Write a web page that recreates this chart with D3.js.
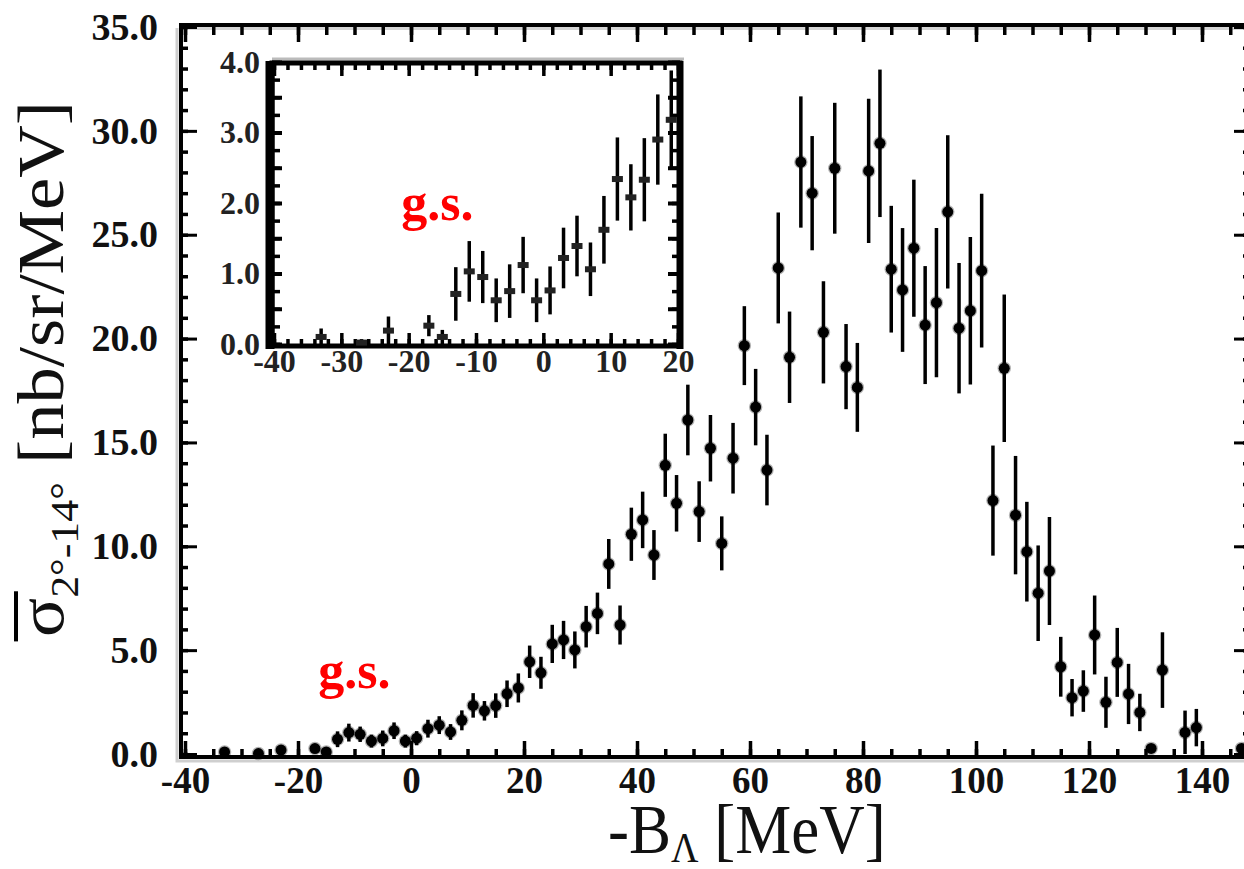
<!DOCTYPE html>
<html>
<head>
<meta charset="utf-8">
<script src="https://cdn.jsdelivr.net/npm/d3@7/dist/d3.min.js"></script>
<style>
  body { margin: 0; background: #fff; }
  svg { display: block; }
  text { font-family: "Liberation Serif", "Times New Roman", serif; }
</style>
</head>
<body>
<svg id="chart" width="1244" height="869"></svg>
<script>
// -B_Lambda bin centres [MeV]
var energy = [-33, -27, -23, -17, -15, -13, -11, -9, -7, -5, -3, -1, 1, 3, 5, 7, 9, 11, 13, 15, 17, 19,
  21, 23, 25, 27, 29, 31, 33, 35, 37, 39, 41, 43, 45, 47, 49, 51, 53, 55, 57, 59, 61, 63, 65, 67, 69,
  71, 73, 75, 77, 79, 81, 83, 85, 87, 89, 91, 93, 95, 97, 99, 101, 103, 105, 107, 109, 111, 113, 115,
  117, 119, 121, 123, 125, 127, 129, 131, 133, 137, 139, 147];
// cross section [nb/sr/MeV]
var sigma = [0.10, 0.02, 0.19, 0.26, 0.10, 0.71, 1.03, 0.95, 0.62, 0.75, 1.12, 0.62, 0.76, 1.22, 1.39, 1.06, 1.62, 2.34, 2.08, 2.33, 2.90, 3.18,
  4.44, 3.91, 5.30, 5.49, 5.01, 6.13, 6.77, 9.15, 6.21, 10.58, 11.27, 9.58, 13.90, 12.07, 16.08, 11.67, 14.72, 10.14, 14.24, 19.66, 16.70, 13.67, 23.40, 19.10, 28.50,
  27.00, 20.30, 28.20, 18.65, 17.65, 28.07, 29.40, 23.34, 22.34, 24.35, 20.65, 21.73, 26.10, 20.50, 21.34, 23.27, 12.20, 18.57, 11.50, 9.74, 7.74, 8.81, 4.20,
  2.71, 3.03, 5.73, 2.49, 4.41, 2.89, 2.00, 0.27, 4.04, 1.04, 1.27, 0.27];
var sigmaErr = [0.12, 0.05, 0.20, 0.15, 0.10, 0.38, 0.43, 0.37, 0.31, 0.38, 0.40, 0.31, 0.34, 0.43, 0.43, 0.38, 0.48, 0.59, 0.47, 0.59, 0.64, 0.70,
  0.78, 0.77, 0.92, 0.92, 0.89, 1.00, 1.00, 1.20, 0.94, 1.28, 1.36, 1.20, 1.52, 1.36, 1.70, 1.46, 1.60, 1.30, 1.70, 1.90, 1.84, 1.70, 2.67, 2.20, 3.16,
  2.75, 2.46, 3.15, 2.05, 2.14, 3.47, 3.55, 3.05, 2.98, 3.30, 2.84, 3.59, 3.69, 3.14, 3.55, 3.70, 2.65, 3.55, 2.85, 2.40, 2.30, 2.60, 1.44,
  0.90, 1.00, 1.90, 1.23, 1.66, 1.45, 0.90, 0.20, 1.82, 1.05, 0.90, 0.20];

var mainXTicks = [-40, -20, 0, 20, 40, 60, 80, 100, 120, 140];
var mainYTicks = [0, 5, 10, 15, 20, 25, 30, 35];
var insetXTicks = [-40, -30, -20, -10, 0, 10, 20];
var insetYTicks = [0, 1, 2, 3, 4];

var data = energy.map(function(e, i) { return { x: e, y: sigma[i], err: sigmaErr[i] }; });

// plain hyphen for negatives, like the original
var intFmt = function(d) { return String(d); };

var svg = d3.select("#chart");

// ---------- main plot ----------
var x = d3.scaleLinear().domain([-40, 140]).range([185, 1202]);
var y = d3.scaleLinear().domain([0, 35]).range([754, 27]);
var frame = { left: 181, top: 25, right: 1250, bottom: 757 };

var main = svg.append("g");

// grey shadow of the frame (scan look)
main.append("path")
  .attr("d", "M" + (frame.left - 4) + "," + (frame.top + 3) + "V" + (frame.bottom + 4) + "H" + frame.right)
  .attr("fill", "none").attr("stroke", "#cfcfcf").attr("stroke-width", 3);
main.append("line")
  .attr("x1", frame.left).attr("x2", frame.right)
  .attr("y1", frame.top + 3.5).attr("y2", frame.top + 3.5)
  .attr("stroke", "#d5d5d5").attr("stroke-width", 3);

function styleTicks(g, w) {
  g.select(".domain").remove();
  g.selectAll(".tick line").attr("stroke", "#000").attr("stroke-width", w);
}

var minorX = d3.range(-40, 146, 5);
var majorX = mainXTicks;
var minorY = d3.range(0, 35.5, 1);
var majorY = mainYTicks;

main.append("g").attr("transform", "translate(0," + frame.bottom + ")")
  .call(d3.axisBottom(x).tickValues(minorX).tickSize(-8).tickFormat("")).call(styleTicks, 3.5);
main.append("g").attr("transform", "translate(0," + frame.bottom + ")")
  .call(d3.axisBottom(x).tickValues(majorX).tickSize(-16).tickFormat("")).call(styleTicks, 3.5);
main.append("g").attr("transform", "translate(0," + frame.top + ")")
  .call(d3.axisTop(x).tickValues(minorX).tickSize(-10).tickFormat("")).call(styleTicks, 3.5);
main.append("g").attr("transform", "translate(0," + frame.top + ")")
  .call(d3.axisTop(x).tickValues(majorX).tickSize(-17).tickFormat("")).call(styleTicks, 3.5);
main.append("g").attr("transform", "translate(" + frame.left + ",0)")
  .call(d3.axisLeft(y).tickValues(minorY).tickSize(-7).tickFormat("")).call(styleTicks, 3.5);
main.append("g").attr("transform", "translate(" + frame.left + ",0)")
  .call(d3.axisLeft(y).tickValues(majorY).tickSize(-16).tickFormat("")).call(styleTicks, 3);
main.append("g").attr("transform", "translate(" + frame.right + ",0)")
  .call(d3.axisRight(y).tickValues(minorY).tickSize(-7).tickFormat("")).call(styleTicks, 3.5);
main.append("g").attr("transform", "translate(" + frame.right + ",0)")
  .call(d3.axisRight(y).tickValues(majorY).tickSize(-16).tickFormat("")).call(styleTicks, 3);

// frame
main.append("rect")
  .attr("x", frame.left).attr("y", frame.top)
  .attr("width", frame.right - frame.left).attr("height", frame.bottom - frame.top)
  .attr("fill", "none").attr("stroke", "#000").attr("stroke-width", 4);

// tick labels
var yLab = main.append("g").attr("transform", "translate(" + frame.left + ",0)")
  .call(d3.axisLeft(y).tickValues(majorY).tickSize(0).tickPadding(23).tickFormat(d3.format(".1f")));
yLab.select(".domain").remove();
yLab.attr("font-family", null).attr("font-size", null);
yLab.selectAll("text").attr("font-size", 38).attr("font-weight", "bold").attr("fill", "#111");

var xLab = main.append("g").attr("transform", "translate(0," + frame.bottom + ")")
  .call(d3.axisBottom(x).tickValues(majorX).tickSize(0).tickPadding(10).tickFormat(intFmt));
xLab.select(".domain").remove();
xLab.attr("font-family", null).attr("font-size", null);
xLab.selectAll("text").attr("font-size", 37).attr("font-weight", "bold").attr("fill", "#111");

// error bars + points
var pts = main.append("g");
pts.selectAll("line.err").data(data).enter().append("line")
  .attr("class", "err")
  .attr("x1", function(d) { return x(d.x); }).attr("x2", function(d) { return x(d.x); })
  .attr("y1", function(d) { return y(Math.max(0, d.y - d.err)); })
  .attr("y2", function(d) { return y(d.y + d.err); })
  .attr("stroke", "#000").attr("stroke-width", 3.5);
pts.selectAll("circle").data(data).enter().append("circle")
  .attr("cx", function(d) { return x(d.x); })
  .attr("cy", function(d) { return y(d.y); })
  .attr("r", 5.5)
  .attr("fill", "#000")
  .attr("stroke", "rgba(0,0,0,0.3)").attr("stroke-width", 2.5);

main.append("text")
  .attr("x", x(-16.4)).attr("y", y(3.2))
  .attr("font-size", 52).attr("font-weight", "bold").attr("fill", "#f00")
  .text("g.s.");

// axis titles
var xt = svg.append("text")
  .attr("transform", "translate(608,853) scale(1,1.1)")
  .attr("font-size", 63).attr("fill", "#111");
xt.append("tspan").text("-B");
xt.append("tspan").attr("font-size", 38).attr("dy", 8).text("\u039b");
xt.append("tspan").attr("dy", -8).text(" [MeV]");

var yt = svg.append("g").attr("transform", "translate(63,637) rotate(-90) scale(1.1,1)");
var ytText = yt.append("text").attr("font-size", 66).attr("fill", "#111");
ytText.append("tspan").text("\u03c3");
ytText.append("tspan").attr("font-size", 40).attr("dy", 15).text("2\u00b0-14\u00b0");
ytText.append("tspan").attr("dy", -15).text(" [nb/sr/MeV]");
var sigW = ytText.node().getSubStringLength(0, 1);
yt.append("line")
  .attr("x1", -4).attr("x2", sigW + 6)
  .attr("y1", -47).attr("y2", -47)
  .attr("stroke", "#000").attr("stroke-width", 4);

// ---------- inset ----------
var ix = d3.scaleLinear().domain([-40, 20]).range([274, 678]);
var iy = d3.scaleLinear().domain([0, 4]).range([344, 62]);
var ib = { left: 272, top: 63, right: 680, bottom: 346 };
var inset = svg.append("g");

inset.append("rect")
  .attr("x", ib.left).attr("y", ib.top)
  .attr("width", ib.right - ib.left).attr("height", ib.bottom - ib.top)
  .attr("fill", "#fff");
inset.append("line")
  .attr("x1", ib.left).attr("x2", ib.right + 4).attr("y1", ib.top - 4).attr("y2", ib.top - 4)
  .attr("stroke", "#bbb").attr("stroke-width", 3);

var iMinorX = d3.range(-40, 20.1, 2);
var iMinorY = d3.range(0, 4.01, 0.25);
var iMajorY = d3.range(0, 4.01, 0.5);

inset.append("g").attr("transform", "translate(0," + ib.bottom + ")")
  .call(d3.axisBottom(ix).tickValues(iMinorX).tickSize(-7).tickFormat("")).call(styleTicks, 3.5);
inset.append("g").attr("transform", "translate(0," + ib.bottom + ")")
  .call(d3.axisBottom(ix).tickValues(insetXTicks).tickSize(-13).tickFormat("")).call(styleTicks, 3.5);
inset.append("g").attr("transform", "translate(0," + ib.top + ")")
  .call(d3.axisTop(ix).tickValues(iMinorX).tickSize(-7).tickFormat("")).call(styleTicks, 3.5);
inset.append("g").attr("transform", "translate(0," + ib.top + ")")
  .call(d3.axisTop(ix).tickValues(insetXTicks).tickSize(-13).tickFormat("")).call(styleTicks, 3.5);
inset.append("g").attr("transform", "translate(" + ib.left + ",0)")
  .call(d3.axisLeft(iy).tickValues(iMinorY).tickSize(-8).tickFormat("")).call(styleTicks, 3.5);
inset.append("g").attr("transform", "translate(" + ib.left + ",0)")
  .call(d3.axisLeft(iy).tickValues(iMajorY).tickSize(-10).tickFormat("")).call(styleTicks, 4);
inset.append("g").attr("transform", "translate(" + ib.right + ",0)")
  .call(d3.axisRight(iy).tickValues(iMinorY).tickSize(-8).tickFormat("")).call(styleTicks, 3.5);
inset.append("g").attr("transform", "translate(" + ib.right + ",0)")
  .call(d3.axisRight(iy).tickValues(iMajorY).tickSize(-12).tickFormat("")).call(styleTicks, 4);

inset.append("rect")
  .attr("x", ib.left).attr("y", ib.top)
  .attr("width", ib.right - ib.left).attr("height", ib.bottom - ib.top)
  .attr("fill", "none").attr("stroke", "#000").attr("stroke-width", 5);
// heavy left / right edges of the inset box
inset.append("line")
  .attr("x1", ib.left - 2).attr("x2", ib.left - 2).attr("y1", ib.top - 2).attr("y2", ib.bottom + 3)
  .attr("stroke", "#000").attr("stroke-width", 9);
inset.append("line")
  .attr("x1", ib.right).attr("x2", ib.right).attr("y1", ib.top - 2).attr("y2", ib.bottom + 3)
  .attr("stroke", "#000").attr("stroke-width", 7);

var iyLab = inset.append("g").attr("transform", "translate(" + ib.left + ",0)")
  .call(d3.axisLeft(iy).tickValues(insetYTicks).tickSize(0).tickPadding(12).tickFormat(d3.format(".1f")));
iyLab.select(".domain").remove();
iyLab.attr("font-family", null).attr("font-size", null);
iyLab.selectAll("text").attr("font-size", 32).attr("font-weight", "bold").attr("fill", "#222");

var ixLab = inset.append("g").attr("transform", "translate(0," + ib.bottom + ")")
  .call(d3.axisBottom(ix).tickValues(insetXTicks).tickSize(0).tickPadding(3).tickFormat(intFmt));
ixLab.select(".domain").remove();
ixLab.attr("font-family", null).attr("font-size", null);
ixLab.selectAll("text").attr("font-size", 32).attr("font-weight", "bold").attr("fill", "#222");

var insetData = data.filter(function(d) { return d.x >= -40 && d.x <= 20; });
var ipts = inset.append("g");
ipts.selectAll("line").data(insetData).enter().append("line")
  .attr("x1", function(d) { return ix(d.x); }).attr("x2", function(d) { return ix(d.x); })
  .attr("y1", function(d) { return iy(Math.max(0, d.y - d.err)); })
  .attr("y2", function(d) { return iy(d.y + d.err); })
  .attr("stroke", "#000").attr("stroke-width", 3.5);
ipts.selectAll("rect").data(insetData).enter().append("rect")
  .attr("x", function(d) { return ix(d.x) - 5.5; })
  .attr("y", function(d) { return iy(d.y) - 3; })
  .attr("width", 11).attr("height", 6)
  .attr("fill", "#222");

inset.append("text")
  .attr("x", ix(-21.1)).attr("y", iy(1.76))
  .attr("font-size", 52).attr("font-weight", "bold").attr("fill", "#f00")
  .text("g.s.");
</script>
</body>
</html>
